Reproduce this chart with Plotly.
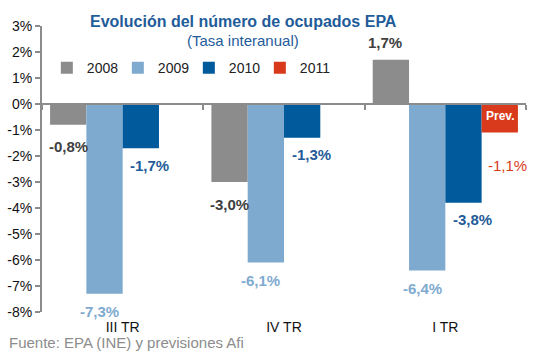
import plotly.graph_objects as go

categories = ["III TR", "IV TR", "I TR"]
years = ["2008", "2009", "2010", "2011"]
v2008 = [-0.8, -3.0, 1.7]
v2009 = [-7.3, -6.1, -6.4]
v2010 = [-1.7, -1.3, -3.8]
v2011 = [None, None, -1.1]
series = [v2008, v2009, v2010, v2011]
yticks = [3, 2, 1, 0, -1, -2, -3, -4, -5, -6, -7, -8]

bar_colors = ["#8C8C8C", "#7FAACF", "#005A9C", "#D93A1C"]
label_colors = ["#404040", "#7FAACF", "#1F5C99", "#D93A1C"]
label_bold = [True, True, True, False]
label_dx = [0, -5, 9, 8]
label_dy = [22, 18, 17, 33]
FONT = "Liberation Sans, Arial, sans-serif"

fig = go.Figure()
for name, vals, col in zip(years, series, bar_colors):
    fig.add_trace(go.Bar(x=categories, y=vals, name=name, marker_color=col,
                         marker_line_width=0))

# invisible trace for the zero-line axis
fig.add_trace(go.Scatter(x=categories, y=[None] * 3, xaxis="x2", yaxis="y",
                         showlegend=False, hoverinfo="skip"))

nb = len(years)
bargap = 0.1
cat_px = 484 / len(categories)
bw = cat_px * (1 - bargap) / nb

annotations = []
for si, vals in enumerate(series):
    off = (si - (nb - 1) / 2) * bw
    for ci, v in enumerate(vals):
        if v is None:
            continue
        txt = ("%.1f%%" % v).replace(".", ",")
        if label_bold[si]:
            txt = "<b>" + txt + "</b>"
        dy = label_dy[si] if v < 0 else -17
        annotations.append(dict(
            x=categories[ci], y=v, xref="x", yref="y", text=txt, showarrow=False,
            xshift=off + (label_dx[si] if v < 0 else -6), yshift=-dy,
            font=dict(family=FONT, size=15, color=label_colors[si])))
        if si == 3:
            annotations.append(dict(
                x=categories[ci], y=0, xref="x", yref="y", text="<b>Prev.</b>",
                showarrow=False, xshift=off, yshift=-3, yanchor="top",
                font=dict(family=FONT, size=12, color="white")))

annotations += [
    dict(x=0.417, y=1.052, xref="paper", yref="paper", showarrow=False,
         text="<b>Evolución del número de ocupados EPA</b>",
         font=dict(family=FONT, size=16, color="#1F5C99")),
    dict(x=0.415, y=0.986, xref="paper", yref="paper", showarrow=False,
         text="(Tasa interanual)",
         font=dict(family=FONT, size=15, color="#1F5C99")),
    dict(x=-0.073, y=-0.105, xref="paper", yref="paper", showarrow=False,
         xanchor="left", yanchor="middle",
         text="Fuente: EPA (INE) y previsiones Afi",
         font=dict(family=FONT, size=15, color="#8C8C8C")),
]

fig.update_layout(
    width=533, height=351,
    margin=dict(l=42, r=7, t=26, b=39),
    paper_bgcolor="white", plot_bgcolor="white",
    barmode="group", bargap=bargap, bargroupgap=0,
    font=dict(family=FONT, size=14, color="#222222"),
    showlegend=True,
    legend=dict(orientation="h", x=0.01, y=0.853, yanchor="middle",
                xanchor="left", font=dict(family=FONT, size=14, color="#222222"),
                bgcolor="rgba(0,0,0,0)", itemwidth=30, tracegroupgap=0,
                entrywidth=26, entrywidthmode="pixels"),
    annotations=annotations,
    xaxis=dict(type="category", categoryarray=categories, range=[-0.5, 2.5],
               showline=False, ticks="", showgrid=False, zeroline=False,
               ticklabelstandoff=5,
               tickfont=dict(family=FONT, size=14, color="#111111")),
    xaxis2=dict(type="category", categoryarray=categories, range=[-0.5, 2.5],
                overlaying="x", anchor="free", position=8 / 11,
                showline=True, linecolor="#8C8C8C", linewidth=2,
                ticks="outside", tickson="boundaries", ticklen=5,
                tickcolor="#8C8C8C", tickwidth=2, showticklabels=False,
                showgrid=False, zeroline=False),
    yaxis=dict(range=[-8, 3], tickvals=yticks,
               ticktext=["%d%%" % t for t in yticks],
               showline=True, linecolor="#8C8C8C", linewidth=2,
               ticks="outside", ticklen=5, tickcolor="#8C8C8C", tickwidth=2,
               showgrid=False, zeroline=False,
               tickfont=dict(family=FONT, size=14, color="#111111")),
)

fig.write_html("out.html")
